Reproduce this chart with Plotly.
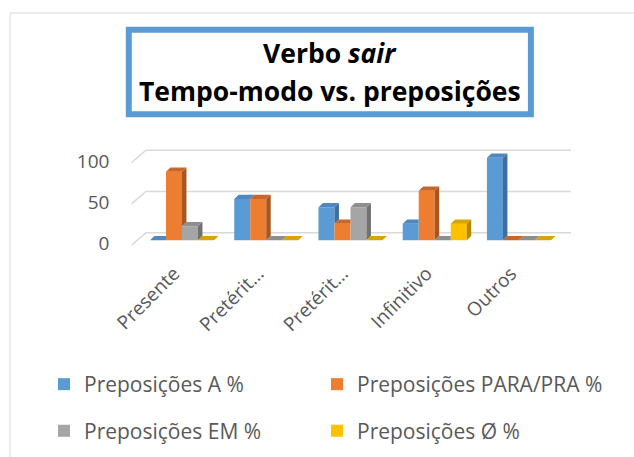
import plotly.graph_objects as go

W, H = 634, 457

categories = ["Presente", "Pretérit…", "Pretérit…", "Infinitivo", "Outros"]
series_names = ["Preposições A %", "Preposições PARA/PRA %",
                "Preposições EM %", "Preposições Ø %"]
prep_a = [0, 50, 40, 20, 100]
prep_para = [83, 50, 20, 60, 0]
prep_em = [17, 0, 40, 0, 0]
prep_zero = [0, 0, 0, 20, 0]
y_ticks = [0, 50, 100]

front_col = ["#5B9BD5", "#ED7D31", "#A5A5A5", "#FFC000"]
top_col = ["#4F87BE", "#C9662A", "#8E8E8E", "#D9A300"]
side_col = ["#3E6E9C", "#A8551F", "#717171", "#B38700"]

FONT = "'Open Sans', 'Noto Sans', sans-serif"
GREY = "#595959"

series = [prep_a, prep_para, prep_em, prep_zero]
n = len(series)
xs = list(range(len(categories)))

BW = 0.19            # bar width (category units)
DX, DY = 0.053, 5.2  # 3-D depth offsets (x units, y units)

legend_ids = ["legend", "legend2", "legend3", "legend4"]

fig = go.Figure()

# front faces
for i, (name, vals) in enumerate(zip(series_names, series)):
    off = -n * BW / 2 + i * BW
    fig.add_trace(go.Bar(
        x=xs, y=vals, width=BW, offset=off, name=name,
        marker=dict(color=front_col[i], line=dict(width=0)),
        legend=legend_ids[i],
        hoverinfo="y+name",
    ))

# side & top faces (pseudo 3-D)
for i, vals in enumerate(series):
    off = -n * BW / 2 + i * BW
    sx, sy, tx, ty = [], [], [], []
    for j in xs:
        x0 = j + off
        x1 = x0 + BW
        v = vals[j]
        nxt = series[i + 1][j] if i + 1 < n else 0
        lower = max(nxt, 0)
        if v > lower:
            sx += [x1, x1 + DX, x1 + DX, x1, x1, None]
            sy += [lower, lower + DY, v + DY, v, lower, None]
        if i + 1 < n and nxt >= v + DY:
            tx += [x0, x0 + DX, x1, x1, x0, None]
            ty += [v, v + DY, v + DY, v, v, None]
        else:
            tx += [x0, x0 + DX, x1 + DX, x1, x0, None]
            ty += [v, v + DY, v + DY, v, v, None]
    fig.add_trace(go.Scatter(x=sx, y=sy, mode="lines", fill="toself",
                             fillcolor=side_col[i], line=dict(width=0, color=side_col[i]),
                             showlegend=False, hoverinfo="skip"))
    fig.add_trace(go.Scatter(x=tx, y=ty, mode="lines", fill="toself",
                             fillcolor=top_col[i], line=dict(width=0, color=top_col[i]),
                             showlegend=False, hoverinfo="skip"))

# back-wall gridlines
XL, XB, XR = -0.6, -0.427, 4.62
GF, GB = -6, 9.1
shapes = []
for v in y_ticks:
    shapes.append(dict(type="path", xref="x", yref="y", layer="below",
                       path=f"M {XL},{v + GF} L {XB},{v + GB} L {XR},{v + GB}",
                       line=dict(color="#D9D9D9", width=1.5)))

# outer chart frame
shapes.append(dict(type="rect", xref="paper", yref="paper", layer="below",
                   x0=10 / W, x1=1.2, y0=1 - 13 / H, y1=-0.2,
                   line=dict(color="#D9D9D9", width=1)))
# title box
shapes.append(dict(type="rect", xref="paper", yref="paper",
                   x0=128.8 / W, x1=530.9 / W, y0=1 - 29.8 / H, y1=1 - 114.2 / H,
                   line=dict(color="#5B9BD5", width=6), fillcolor="white"))

annotations = [
    dict(text="<b>Verbo <i>sair</i></b>", xref="paper", yref="paper",
         x=329.9 / W, y=1 - 53 / H, xanchor="center", yanchor="middle",
         showarrow=False, font=dict(family=FONT, size=26.5, color="black")),
    dict(text="<b>Tempo-modo vs. preposições</b>", xref="paper", yref="paper",
         x=329.9 / W, y=1 - 91.5 / H, xanchor="center", yanchor="middle",
         showarrow=False, font=dict(family=FONT, size=26.5, color="black")),
]

def legend_at(xpx, ypx):
    return dict(orientation="h", font=dict(family=FONT, size=21, color=GREY),
                bgcolor="rgba(0,0,0,0)", xanchor="left", yanchor="middle",
                x=xpx / W, y=1 - ypx / H)

COL1, COL2 = 44, 317
ROW1, ROW2 = 384.5, 431

fig.update_layout(
    width=W, height=H,
    margin=dict(l=0, r=0, t=0, b=0),
    paper_bgcolor="white", plot_bgcolor="rgba(0,0,0,0)",
    barmode="overlay",
    showlegend=True,
    legend=legend_at(COL1, ROW1),
    legend2=legend_at(COL2, ROW1),
    legend3=legend_at(COL1, ROW2),
    legend4=legend_at(COL2, ROW2),
    shapes=shapes,
    annotations=annotations,
    xaxis=dict(domain=[131.45 / W, 571.2 / W], range=[XL, XR],
               tickvals=xs, ticktext=categories, tickangle=-45,
               showgrid=False, zeroline=False, showline=False, ticks="",
               ticklabelstandoff=11, ticklabelshift=-8, automargin=False,
               tickfont=dict(family=FONT, size=19, color=GREY)),
    yaxis=dict(domain=[1 - 246.8 / H, 1 - 147.8 / H], range=[-8, 112],
               tickvals=[v - 4 for v in y_ticks], ticktext=[str(v) for v in y_ticks],
               showgrid=False, zeroline=False, showline=False, ticks="",
               ticklabelstandoff=21, automargin=False,
               tickfont=dict(family=FONT, size=19, color=GREY)),
)

fig.write_html("out.html", config={"displayModeBar": False},
               post_script="document.body.style.margin='0';")
